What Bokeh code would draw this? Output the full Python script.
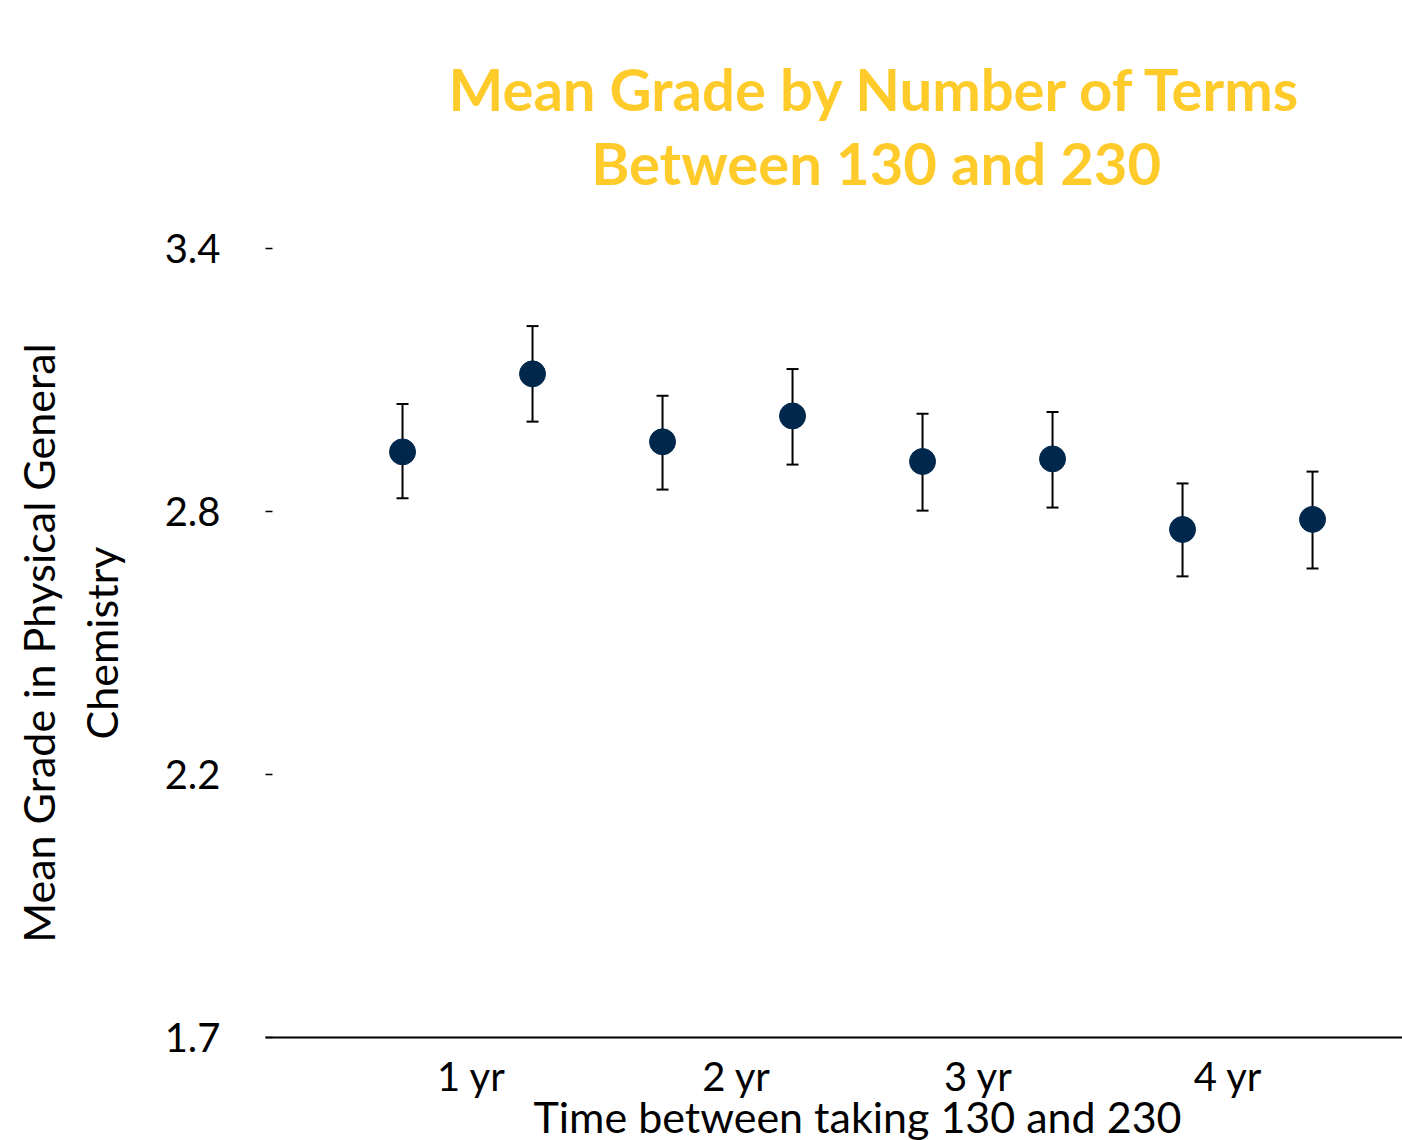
from bokeh.plotting import figure
from bokeh.models import ColumnDataSource, Whisker, TeeHead, FixedTicker, Range1d, Title
from bokeh.embed import file_html
from bokeh.resources import INLINE

# ---- data ----
terms = [1, 2, 3, 4, 5, 6, 7, 8]
mean_grade = [2.936, 3.114, 2.959, 3.018, 2.914, 2.920, 2.759, 2.782]
ci_lower = [2.830, 3.005, 2.850, 2.907, 2.802, 2.809, 2.652, 2.670]
ci_upper = [3.045, 3.223, 3.064, 3.125, 3.023, 3.027, 2.864, 2.891]
x_tick_pos = [1.53, 3.57, 5.43, 7.35]
x_tick_labels = ["1 yr", "2 yr", "3 yr", "4 yr"]
y_tick_pos = [1.6, 2.2, 2.8, 3.4]
y_tick_labels = ["1.7", "2.2", "2.8", "3.4"]

title_text = "Mean Grade by Number of Terms\nBetween 130 and 230"
x_title = "Time between taking 130 and 230"
y_title = "Mean Grade in Physical General\nChemistry"

FONT = "Lato"
NAVY = "#00274C"
MAIZE = "#FFCB2B"

src = ColumnDataSource(dict(x=terms, y=mean_grade, lo=ci_lower, hi=ci_upper))

p = figure(width=1402, height=1140,
           x_range=Range1d(-0.054, 8.692), y_range=Range1d(1.6, 3.4),
           output_backend="svg", toolbar_location=None,
           min_border_left=265, min_border_right=0,
           min_border_top=247, min_border_bottom=103)
p.outline_line_color = None
p.background_fill_color = "white"
p.border_fill_color = "white"
p.xgrid.visible = False
p.ygrid.visible = False

# y axis
ya = p.yaxis[0]
ya.ticker = FixedTicker(ticks=y_tick_pos)
ya.major_label_overrides = {t: l for t, l in zip(y_tick_pos, y_tick_labels)}
ya.axis_line_color = None
ya.major_tick_in = 7
ya.major_tick_out = 0
ya.major_tick_line_color = "black"
ya.major_tick_line_width = 1.5
ya.minor_tick_line_color = None
ya.major_label_standoff = 45
ya.major_label_text_font = FONT
ya.major_label_text_font_size = "40px"
ya.major_label_text_color = "black"
ya.axis_label = y_title
ya.axis_label_text_font = FONT
ya.axis_label_text_font_style = "normal"
ya.axis_label_text_font_size = "43px"
ya.axis_label_text_color = "black"
ya.axis_label_text_line_height = 1.23
ya.axis_label_standoff = 35

# x axis
xa = p.xaxis[0]
xa.ticker = FixedTicker(ticks=x_tick_pos)
xa.major_label_overrides = {t: l for t, l in zip(x_tick_pos, x_tick_labels)}
xa.axis_line_color = "black"
xa.axis_line_width = 2
xa.major_tick_line_color = None
xa.minor_tick_line_color = None
xa.major_tick_in = 0
xa.major_tick_out = 0
xa.major_label_standoff = 14
xa.major_label_text_font = FONT
xa.major_label_text_font_size = "40px"
xa.major_label_text_color = "black"

# x axis title (as a panel below the axis)
p.add_layout(Title(text=x_title, align="left", offset=268, vertical_align="top",
                   standoff=-24, text_font=FONT, text_font_size="43px",
                   text_font_style="normal", text_color="black"), "below")

# chart title
p.title = Title(text=title_text, align="left", offset=183, vertical_align="bottom",
                standoff=103, text_align="center", text_line_height=1.07,
                text_font=FONT, text_font_size="58px", text_font_style="bold",
                text_color=MAIZE)

# error bars and points
p.scatter("x", "y", source=src, size=26, color=NAVY, line_color=NAVY)
w = Whisker(source=src, base="x", lower="lo", upper="hi",
            line_color="black", line_width=2,
            upper_head=TeeHead(size=12, line_width=2, line_color="black"),
            lower_head=TeeHead(size=12, line_width=2, line_color="black"))
p.add_layout(w)

open("out.html", "w").write(file_html(p, INLINE))
